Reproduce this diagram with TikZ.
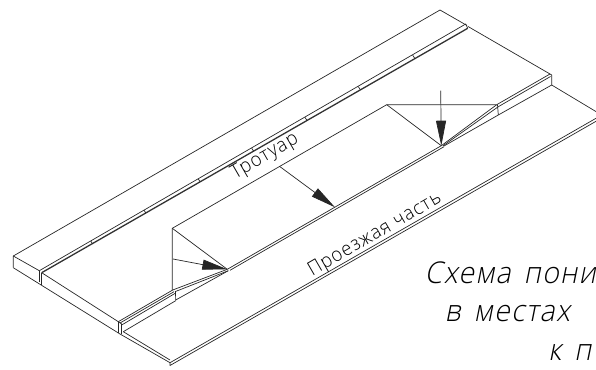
\documentclass[tikz,border=0pt]{standalone}
\usepackage{fontspec}
\setmainfont{Open Sans}
\newfontfamily\gostfont[FakeSlant=0.2,FakeStretch=0.95,LetterSpace=4,WordSpace=1.5]{Open Sans Light}
\newfontfamily\gostlabel[FakeStretch=0.95,LetterSpace=5]{Open Sans Light}
\usetikzlibrary{arrows.meta}
\tikzset{
  outline/.style={black!85, line width=0.7pt, line join=round},
  curbline/.style={black!80, line width=1.3pt},
  flowarrow/.style={black!85, line width=0.7pt, -{Triangle[length=25pt,width=10pt]}},
  drawnlabel/.style={inner sep=0pt, font=\gostlabel\fontsize{19.5}{22}\selectfont, rotate=30},
  captionline/.style={inner sep=0pt, anchor=base west, font=\gostfont\fontsize{30}{34}\selectfont}
}
\begin{document}
\begin{tikzpicture}[x=1pt,y=-1pt]
        \useasboundingbox (0,0) rectangle (596,369);
        \clip (0,0) rectangle (596,369);

        % sidewalk
        \draw [outline] (13.3,267.7) -- (13.3,256) -- (440,10) -- (467,25.5);
        \draw [outline] (13.3,256) -- (39.3,270.7);
        \draw [outline] (13.3,267.7) -- (120,334);
        \draw [outline] (41.7,272.7) -- (118.3,321.7);
        \draw [outline] (468,26.5) -- (550,74) -- (551.7,75) -- (551.7,85) -- (600,114);

        % curb along the sidewalk
        \draw [outline] (39.3,270.7) -- (465.7,24) -- (467.7,28.3);
        \draw [curbline] (41.7,272.7) -- (467.7,28.3);
        \draw [outline] (39.3,270.7) -- (39.3,282);
        \draw [outline] (41.7,272.7) -- (41.7,285);
        \foreach \x/\y in {90.7/241,144/210.2,198.3/179,251.7/148.2,305/117.4,358.3/86.6,412.7/55.2}
          \draw [outline] (\x,\y) -- (\x+2,\y+3);

        % lowered part of the road edge
        \draw [outline] (172.3,290) -- (172.3,228.3) -- (386.7,104.7) -- (496.7,104.7);
        \draw [outline] (172.3,228.3) -- (227.3,269.3);
        \draw [outline] (386.7,104.7) -- (441.3,145.7);
        \draw [outline] (227.3,269.3) -- (441.3,145.7);
        \draw [outline] (230,270.3) -- (444,146.7);

        % left ramp
        \draw [outline] (172.7,290) -- (227.3,269.3);
        \draw [outline] (175,291.7) -- (228.3,270.7);
        \draw [outline] (175.7,300) -- (228.3,270.7);
        \draw [outline] (175.5,291.7) -- (175.7,300.7);
        \draw [outline] (118.3,321.7) -- (172.7,290);
        \draw [outline] (120,323) -- (174,291.7);
        \draw [outline] (121.7,325) -- (175.7,293);
        \draw [outline] (123.3,331.7) -- (175.7,300.7);
        \draw [outline] (118.3,321.7) -- (118.3,333);
        \draw [outline] (121.7,324) -- (121.7,334);
        \draw [outline] (118.3,321.7) -- (121.7,324);

        % right ramp
        \draw [outline] (441.3,145.7) -- (496.7,104.7);
        \draw [outline] (442.7,146) -- (498.3,106.7);
        \draw [outline] (444,146) -- (498.3,115);
        \draw [outline] (497.5,104.7) -- (498.3,115);
        \draw [outline] (496.7,104.7) -- (550,74);
        \draw [outline] (498.3,106.7) -- (550.5,76.5);
        \draw [outline] (498.3,115) -- (551.7,85);

        % road
        \draw [outline] (120,334) -- (170,362.7) -- (600,116);
        \draw [outline] (123.3,331.7) -- (170,360);
        \draw [outline] (170,362.7) -- (170,365.5) -- (600,119);

        % arrows
        \draw [flowarrow] (173,259) -- (227.3,269.3);
        \draw [flowarrow] (280,166.7) -- (335,207.3);
        \draw [flowarrow] (440.7,90.7) -- (441.3,145.7);

        % labels
        \node [drawnlabel] (sidewalk) at (265,156.7) {Тротуар};
        \node [drawnlabel] (roadway) at (375,235) {Проезжая часть};
        \node [captionline] (captionA) at (424.5,283) {Схема пониж};
        \node [captionline] (captionB) at (444.5,321.7) {в местах};
        \node [captionline] (captionC) at (548,360) {к п};
\end{tikzpicture}
\end{document}
